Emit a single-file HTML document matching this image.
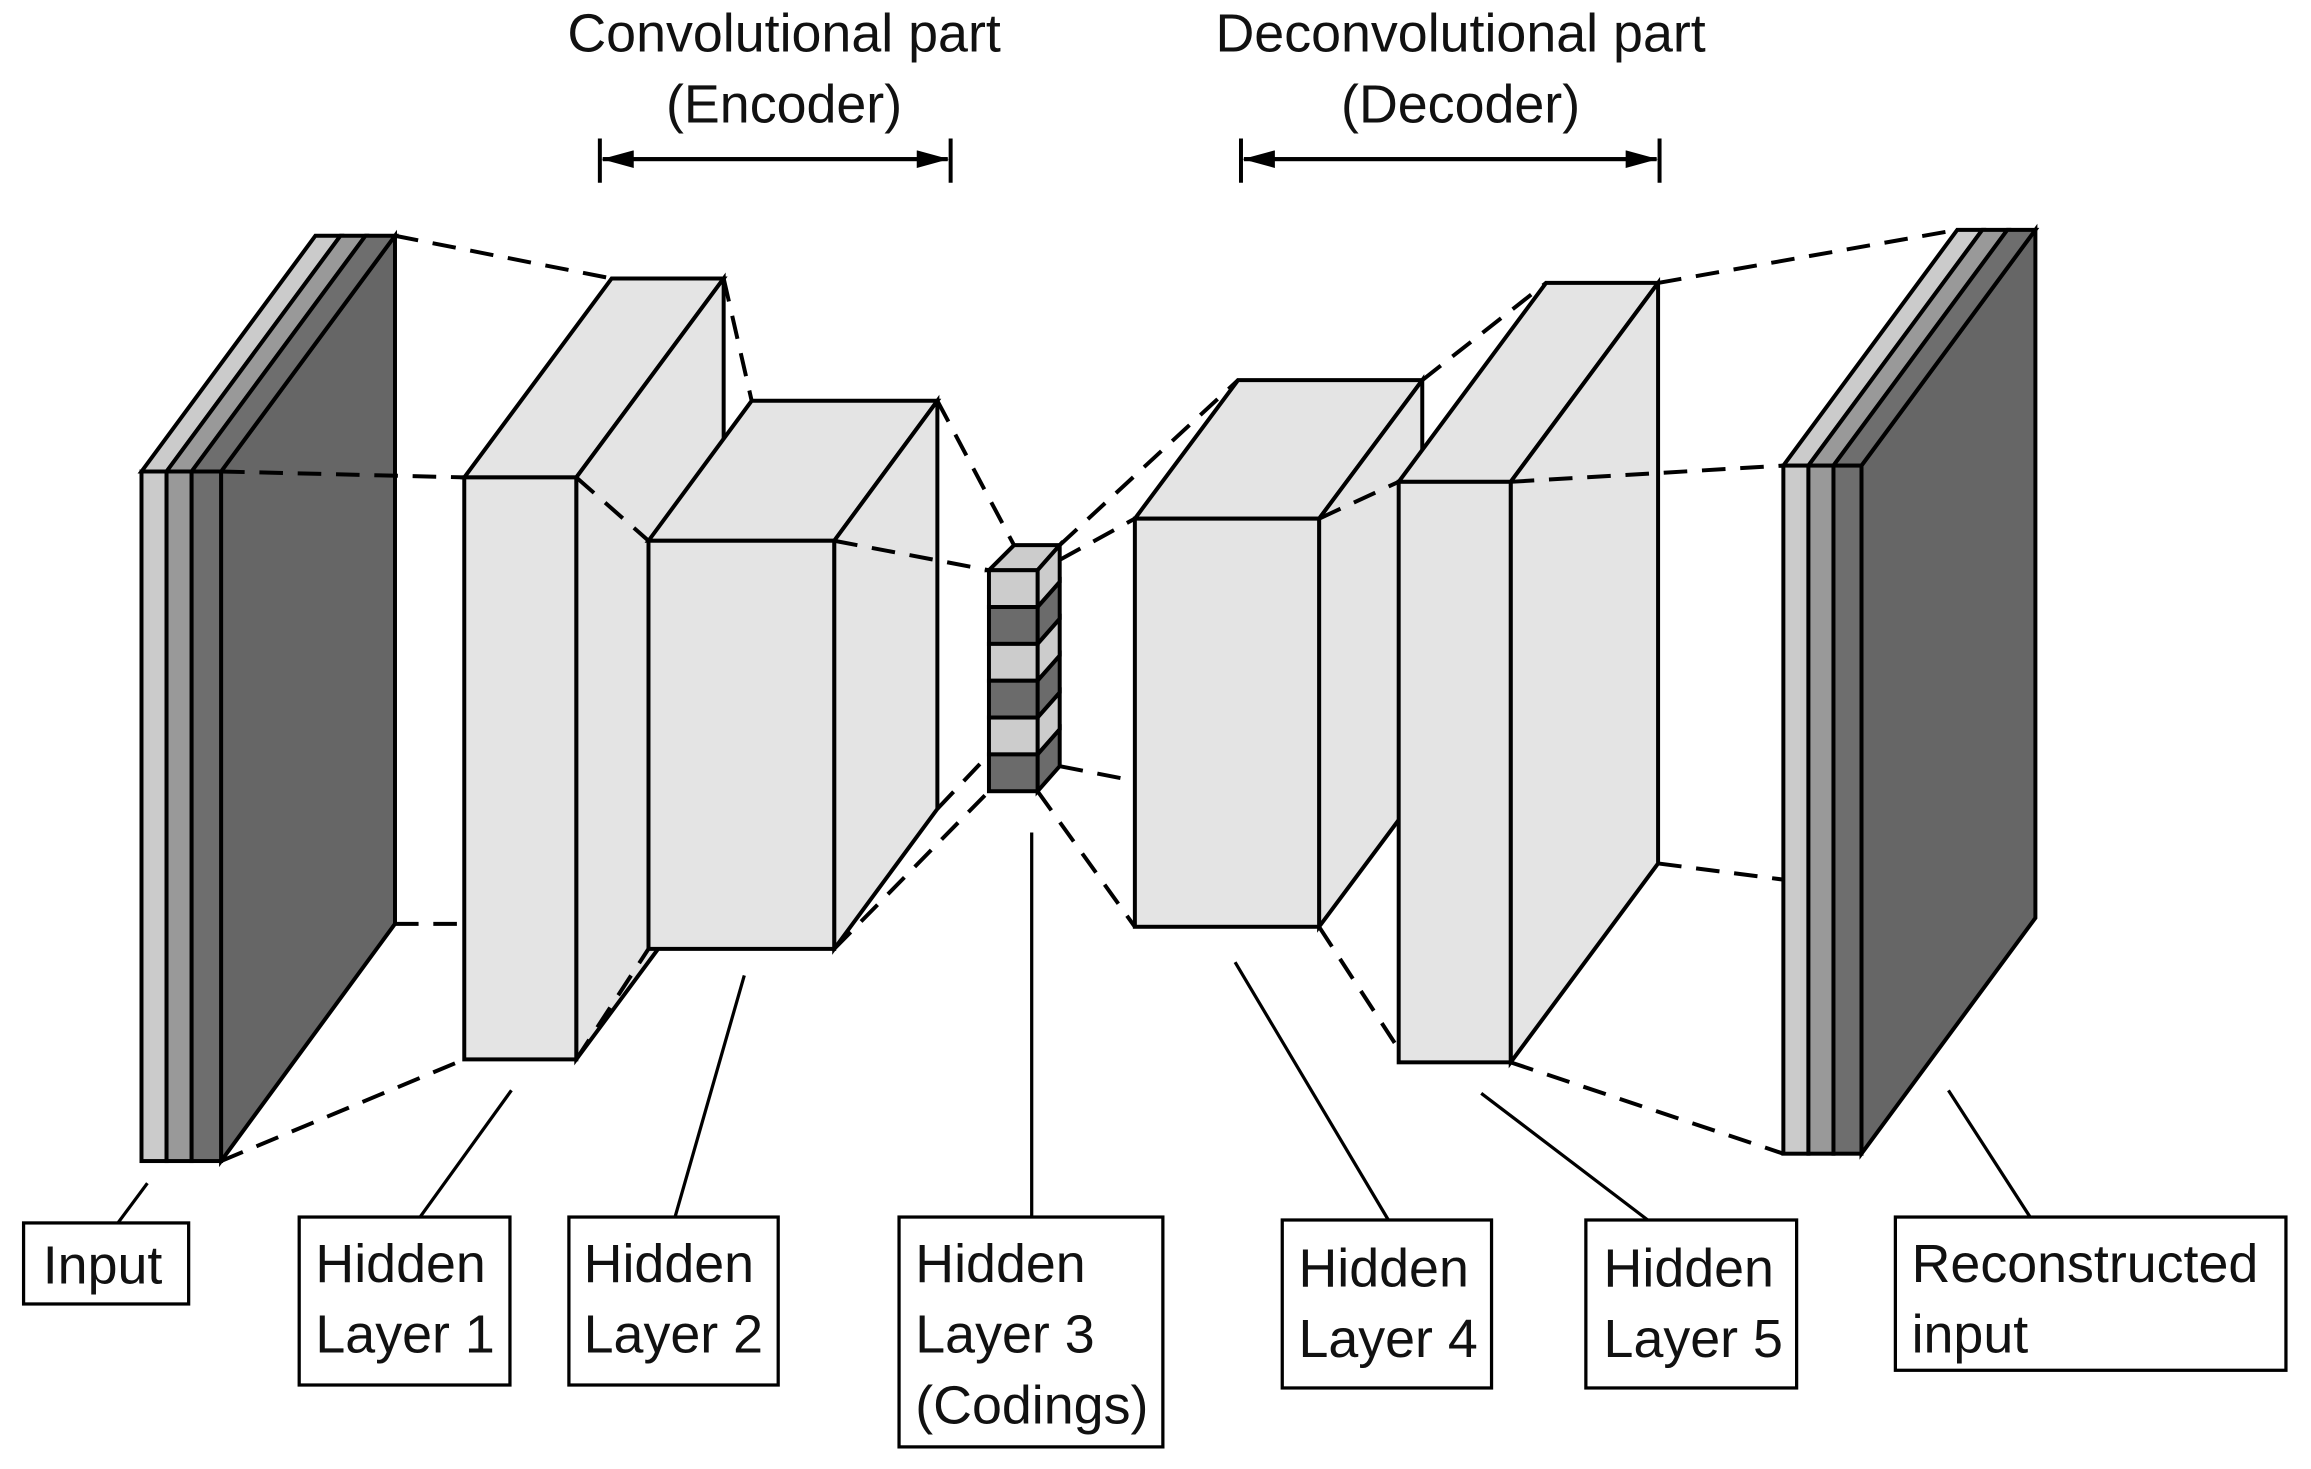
<!DOCTYPE html>
<html><head><style>
html,body{margin:0;padding:0;background:#fff;}
svg{display:block}
text{font-family:"Liberation Sans",sans-serif;font-size:36.5px;fill:#111}
</style></head><body>
<svg width="2311" height="1469" viewBox="0 0 1568 997" preserveAspectRatio="none" xmlns="http://www.w3.org/2000/svg">
<defs>
<marker id="ah" markerWidth="22" markerHeight="12" refX="21" refY="6" orient="auto" markerUnits="userSpaceOnUse"><path d="M0,0 L22,6 L0,12 z" fill="#000"/></marker>
</defs>
<g stroke="#000" stroke-width="2.7" stroke-linejoin="miter">
<polygon points="150,320 268,160 268,627 150,788" fill="#666"/>
<polygon points="96,320 214,160 231,160 113,320" fill="#cbcbcb"/>
<polygon points="113,320 231,160 248,160 130,320" fill="#999"/>
<polygon points="130,320 248,160 268,160 150,320" fill="#6e6e6e"/>
<rect x="96" y="320" width="17" height="468" fill="#cbcbcb"/>
<rect x="113" y="320" width="17" height="468" fill="#999"/>
<rect x="130" y="320" width="20" height="468" fill="#6e6e6e"/>
<polygon points="315,324 415,189 491,189 391,324" fill="#e4e4e4"/>
<polygon points="391,324 491,189 491,584 391,719" fill="#e4e4e4"/>
<rect x="315" y="324" width="76" height="395" fill="#e4e4e4"/>
<polygon points="440,367 510,272 636,272 566,367" fill="#e4e4e4"/>
<polygon points="566,367 636,272 636,549 566,644" fill="#e4e4e4"/>
<rect x="440" y="367" width="126" height="277" fill="#e4e4e4"/>
<polygon points="770,352 840,258 965,258 895,352" fill="#e4e4e4"/>
<polygon points="895,352 965,258 965,535 895,629" fill="#e4e4e4"/>
<rect x="770" y="352" width="125" height="277" fill="#e4e4e4"/>
<polygon points="949,327 1049,192 1125,192 1025,327" fill="#e4e4e4"/>
<polygon points="1025,327 1125,192 1125,586 1025,721" fill="#e4e4e4"/>
<rect x="949" y="327" width="76" height="394" fill="#e4e4e4"/>
<polygon points="1263,316 1381,156 1381,623 1263,783" fill="#666"/>
<polygon points="1210,316 1328,156 1345,156 1227,316" fill="#cbcbcb"/>
<polygon points="1227,316 1345,156 1362,156 1244,316" fill="#999"/>
<polygon points="1244,316 1362,156 1381,156 1263,316" fill="#6e6e6e"/>
<rect x="1210" y="316" width="17" height="467" fill="#cbcbcb"/>
<rect x="1227" y="316" width="17" height="467" fill="#999"/>
<rect x="1244" y="316" width="19" height="467" fill="#6e6e6e"/>
<polygon points="671,387 688,370 719,370 704,387" fill="#ccc"/>
<polygon points="704,387 719,370 719,395 704,412" fill="#ccc"/>
<polygon points="704,412 719,395 719,420 704,437" fill="#6b6b6b"/>
<polygon points="704,437 719,420 719,445 704,462" fill="#ccc"/>
<polygon points="704,462 719,445 719,470 704,487" fill="#6b6b6b"/>
<polygon points="704,487 719,470 719,495 704,512" fill="#ccc"/>
<polygon points="704,512 719,495 719,520 704,537" fill="#6b6b6b"/>
<rect x="671" y="387" width="33" height="25" fill="#ccc"/>
<rect x="671" y="412" width="33" height="25" fill="#6b6b6b"/>
<rect x="671" y="437" width="33" height="25" fill="#ccc"/>
<rect x="671" y="462" width="33" height="25" fill="#6b6b6b"/>
<rect x="671" y="487" width="33" height="25" fill="#ccc"/>
<rect x="671" y="512" width="33" height="25" fill="#6b6b6b"/>
</g>
<g stroke="#000" stroke-width="2.7" stroke-dasharray="16,10" fill="none">
<line x1="268" y1="160" x2="415" y2="189"/>
<line x1="150" y1="320" x2="315" y2="324"/>
<line x1="268" y1="627" x2="315" y2="627"/>
<line x1="150" y1="788" x2="315" y2="719"/>
<line x1="491" y1="189" x2="510" y2="272"/>
<line x1="391" y1="324" x2="440" y2="367"/>
<line x1="391" y1="719" x2="440" y2="644"/>
<line x1="636" y1="272" x2="688" y2="370"/>
<line x1="566" y1="367" x2="671" y2="387"/>
<line x1="636" y1="549" x2="671" y2="512"/>
<line x1="566" y1="644" x2="671" y2="537"/>
<line x1="719" y1="370" x2="840" y2="258"/>
<line x1="719" y1="380" x2="770" y2="352"/>
<line x1="719" y1="520" x2="770" y2="530"/>
<line x1="704" y1="537" x2="770" y2="629"/>
<line x1="965" y1="258" x2="1049" y2="192"/>
<line x1="895" y1="352" x2="949" y2="327"/>
<line x1="895" y1="629" x2="949" y2="712"/>
<line x1="1125" y1="192" x2="1328" y2="156"/>
<line x1="1025" y1="327" x2="1210" y2="316"/>
<line x1="1125" y1="586" x2="1210" y2="597"/>
<line x1="1025" y1="721" x2="1210" y2="783"/>
</g>
<g stroke="#000" stroke-width="2.7">
<line x1="407" y1="94" x2="407" y2="124"/><line x1="645" y1="94" x2="645" y2="124"/>
<line x1="409" y1="108" x2="643" y2="108" marker-end="url(#ah)"/>
<line x1="643" y1="108" x2="409" y2="108" marker-end="url(#ah)"/>
<line x1="842" y1="94" x2="842" y2="124"/><line x1="1126" y1="94" x2="1126" y2="124"/>
<line x1="844" y1="108" x2="1124" y2="108" marker-end="url(#ah)"/>
<line x1="1124" y1="108" x2="844" y2="108" marker-end="url(#ah)"/>
</g>
<text x="532" y="35" text-anchor="middle">Convolutional part</text>
<text x="532" y="83" text-anchor="middle">(Encoder)</text>
<text x="991" y="35" text-anchor="middle">Deconvolutional part</text>
<text x="991" y="83" text-anchor="middle">(Decoder)</text>
<g stroke="#000" stroke-width="2.2">
<line x1="100" y1="803" x2="80" y2="830"/>
<line x1="347" y1="740" x2="285" y2="826"/>
<line x1="505" y1="662" x2="458" y2="826"/>
<line x1="700" y1="565" x2="700" y2="826"/>
<line x1="838" y1="653" x2="942" y2="828"/>
<line x1="1005" y1="742" x2="1118" y2="828"/>
<line x1="1322" y1="740" x2="1380" y2="830"/>
</g>
<g stroke="#000" stroke-width="2.2" fill="#fff">
<rect x="16" y="830" width="112" height="55"/>
<rect x="203" y="826" width="143" height="114"/>
<rect x="386" y="826" width="142" height="114"/>
<rect x="610" y="826" width="179" height="156"/>
<rect x="870" y="828" width="142" height="114"/>
<rect x="1076" y="828" width="143" height="114"/>
<rect x="1286" y="826" width="265" height="104"/>
</g>
<text x="29" y="871">Input</text>
<text x="214" y="870">Hidden</text><text x="214" y="918">Layer 1</text>
<text x="396" y="870">Hidden</text><text x="396" y="918">Layer 2</text>
<text x="621" y="870">Hidden</text><text x="621" y="918">Layer 3</text><text x="621" y="966">(Codings)</text>
<text x="881" y="873">Hidden</text><text x="881" y="921">Layer 4</text>
<text x="1088" y="873">Hidden</text><text x="1088" y="921">Layer 5</text>
<text x="1297" y="870">Reconstructed</text><text x="1297" y="918">input</text>
</svg>
</body></html>
